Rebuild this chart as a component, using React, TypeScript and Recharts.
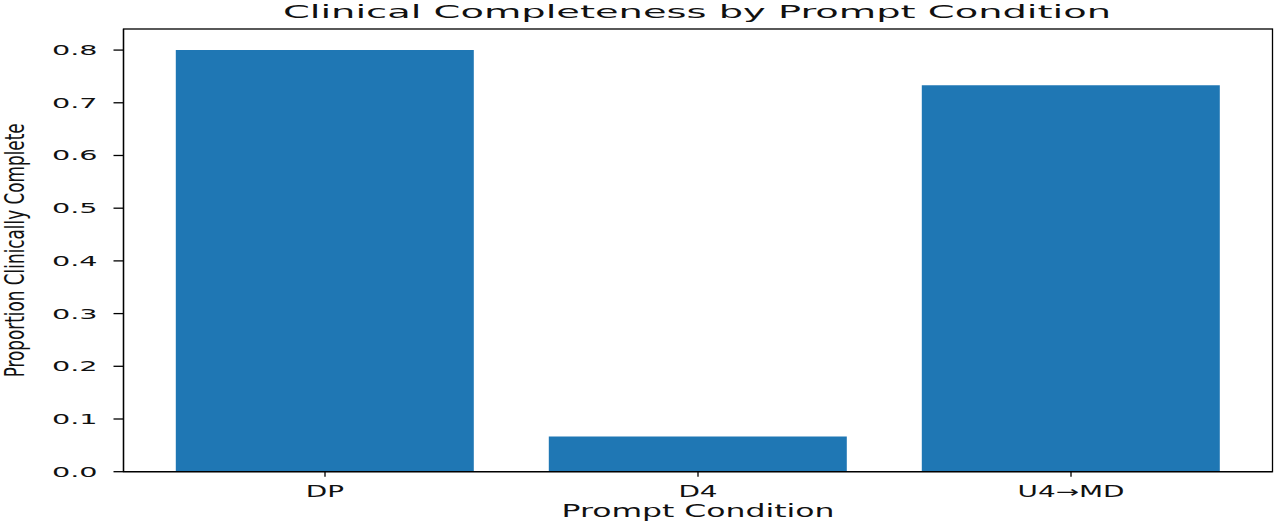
import React from 'react';
import { BarChart, Bar, XAxis, YAxis, Label } from 'recharts';

const categories = ['DP', 'D4', 'U4→MD'];
const completeness = [0.8, 0.0667, 0.7333];
const yTicks = [0, 0.1, 0.2, 0.3, 0.4, 0.5, 0.6, 0.7, 0.8];
const title = 'Clinical Completeness by Prompt Condition';
const xLabel = 'Prompt Condition';
const yLabel = 'Proportion Clinically Complete';

const data = categories.map((c, i) => ({ condition: c, value: completeness[i] }));

const FONT = '"DejaVu Sans", sans-serif';
const INK = '#111';

const W = 1280;
const H = 526;
const MARGIN = { top: 29, right: 7.5, bottom: 0, left: 0 };
const Y_AXIS_W = 123.5;
const X_AXIS_H = 54.3;

const YTick = (props: any) => {
  const { x, y, payload } = props;
  return (
    <text
      transform={`translate(${x},${y + 5}) scale(2.05,1)`}
      textAnchor="end"
      fontFamily={FONT}
      fontSize={14}
      fill={INK}
    >
      {Number(payload.value).toFixed(1)}
    </text>
  );
};

const XTick = (props: any) => {
  const { x, y, payload } = props;
  return (
    <text
      transform={`translate(${x},${y + 20}) scale(1.8,1)`}
      textAnchor="middle"
      fontFamily={FONT}
      fontSize={15.5}
      fill={INK}
    >
      {payload.value}
    </text>
  );
};

const Decorations = (props: any) => {
  const vb = props.viewBox || {};
  const left = vb.x;
  const width = vb.width;
  const bottom = vb.y;
  const top = MARGIN.top;
  const cx = left + width / 2;
  return (
    <g>
      <rect
        x={left}
        y={top}
        width={width}
        height={bottom - top}
        fill="none"
        stroke="#000"
        strokeWidth={1.3}
      />
      <text
        x={cx}
        y={517}
        textAnchor="middle"
        fontFamily={FONT}
        fontSize={18}
        fill={INK}
        textLength={273}
        lengthAdjust="spacingAndGlyphs"
      >
        {xLabel}
      </text>
      <text
        x={cx - 1}
        y={18}
        textAnchor="middle"
        fontFamily={FONT}
        fontSize={18}
        fill={INK}
        textLength={828}
        lengthAdjust="spacingAndGlyphs"
      >
        {title}
      </text>
    </g>
  );
};

export default function App() {
  return (
    <div style={{ position: 'absolute', left: 0, top: 0, width: W, height: H, background: '#fff' }}>
      <BarChart width={W} height={H} data={data} margin={MARGIN} barCategoryGap="10%">
        <XAxis
          dataKey="condition"
          type="category"
          height={X_AXIS_H}
          padding={{ left: 15, right: 15 }}
          tickSize={5}
          tickMargin={0}
          tick={<XTick />}
          tickLine={{ stroke: '#000', strokeWidth: 1.3 }}
          axisLine={{ stroke: '#000', strokeWidth: 1.3 }}
          interval={0}
        >
          <Label content={<Decorations />} />
        </XAxis>
        <YAxis
          type="number"
          domain={[0, 0.84]}
          ticks={yTicks}
          width={Y_AXIS_W}
          tickSize={10}
          tickMargin={16}
          tick={<YTick />}
          tickLine={{ stroke: '#000', strokeWidth: 1.3 }}
          axisLine={{ stroke: '#000', strokeWidth: 1.3 }}
          allowDataOverflow
        >
          <Label
            content={(p: any) => {
              const vb = p.viewBox || {};
              const cy = vb.y + vb.height / 2;
              return (
                <text
                  transform={`translate(24,${cy}) scale(1.63,1) rotate(-90)`}
                  x={0}
                  y={0}
                  textAnchor="middle"
                  fontFamily={FONT}
                  fontSize={16.8}
                  fill={INK}
                  textLength={254}
                  lengthAdjust="spacingAndGlyphs"
                >
                  {yLabel}
                </text>
              );
            }}
          />
        </YAxis>
        <Bar dataKey="value" fill="#1f77b4" isAnimationActive={false} />
      </BarChart>
    </div>
  );
}
